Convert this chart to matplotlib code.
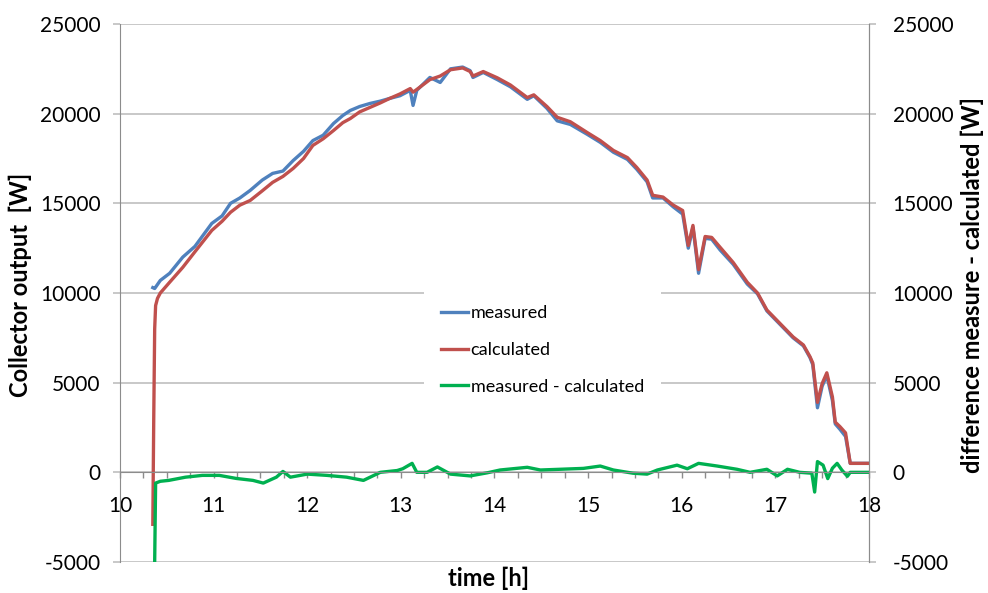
import numpy as np
import matplotlib.pyplot as plt
from matplotlib.ticker import MultipleLocator

plt.rcParams['font.family'] = ['Lato', 'DejaVu Sans']
plt.rcParams['axes.unicode_minus'] = False

t_meas = [10.35, 10.37, 10.43, 10.53, 10.67, 10.80, 10.98, 11.09, 11.18, 11.28,
          11.39, 11.52, 11.63, 11.74, 11.85, 11.96, 12.06, 12.17, 12.28, 12.38,
          12.46, 12.56, 12.67, 12.78, 12.88, 12.99, 13.10, 13.13, 13.17, 13.31,
          13.42, 13.53, 13.66, 13.74, 13.77, 13.88, 14.03, 14.17, 14.35, 14.42,
          14.56, 14.67, 14.81, 14.99, 15.13, 15.27, 15.42, 15.52, 15.63, 15.69,
          15.80, 15.91, 16.01, 16.07, 16.12, 16.18, 16.25, 16.32, 16.41, 16.55,
          16.70, 16.81, 16.91, 17.05, 17.19, 17.30, 17.37, 17.40, 17.45, 17.50,
          17.55, 17.61, 17.64, 17.69, 17.75, 17.80, 18.00]
measured = [10300, 10250, 10700, 11100, 12000, 12600, 13880, 14300, 15000, 15300,
            15720, 16300, 16670, 16800, 17390, 17900, 18500, 18800, 19450, 19900,
            20180, 20400, 20570, 20700, 20850, 21000, 21300, 20460, 21300, 22020,
            21740, 22500, 22600, 22400, 22020, 22300, 21900, 21500, 20800, 21000,
            20300, 19600, 19400, 18850, 18400, 17850, 17450, 16900, 16200, 15300,
            15300, 14800, 14400, 12500, 13660, 11100, 13050, 13000, 12400, 11600,
            10500, 9950, 9000, 8250, 7500, 7050, 6400, 6000, 3600, 4800,
            5400, 4000, 2700, 2400, 2000, 500, 500]

# Berechnete Werte
t_calc = [10.35, 10.36, 10.37, 10.38, 10.40, 10.43, 10.53, 10.67, 10.80, 10.98,
          11.09, 11.18, 11.28, 11.39, 11.52, 11.63, 11.74, 11.85, 11.96, 12.06,
          12.17, 12.28, 12.38, 12.46, 12.56, 12.67, 12.78, 12.88, 12.99, 13.10,
          13.13, 13.17, 13.31, 13.42, 13.53, 13.66, 13.74, 13.77, 13.88, 14.03,
          14.17, 14.35, 14.42, 14.56, 14.67, 14.81, 14.99, 15.13, 15.27, 15.42,
          15.52, 15.63, 15.69, 15.80, 15.91, 16.01, 16.07, 16.12, 16.18, 16.25,
          16.32, 16.41, 16.55, 16.70, 16.81, 16.91, 17.05, 17.19, 17.30, 17.37,
          17.40, 17.45, 17.50, 17.55, 17.61, 17.64, 17.69, 17.75, 17.80, 18.00]
calculated = [-2900, 3000, 8000, 9300, 9700, 10000, 10600, 11430, 12300, 13490,
              14000, 14500, 14900, 15160, 15700, 16170, 16500, 16950, 17500, 18230,
              18600, 19060, 19500, 19730, 20100, 20350, 20600, 20850, 21100, 21400,
              21200, 21350, 21900, 22100, 22450, 22550, 22350, 22100, 22350, 22000,
              21600, 20900, 21050, 20400, 19800, 19550, 18950, 18500, 17950, 17550,
              17000, 16300, 15450, 15350, 14900, 14600, 12650, 13770, 11300, 13150,
              13100, 12550, 11700, 10600, 10000, 9050, 8300, 7550, 7100, 6450,
              6100, 3900, 4950, 5550, 4200, 2800, 2550, 2200, 500, 500]

# Differenz gemessen - berechnet
t_diff = [10.37, 10.38, 10.43, 10.52, 10.70, 10.88, 11.06, 11.24, 11.42, 11.53,
          11.67, 11.74, 11.82, 12.00, 12.21, 12.42, 12.60, 12.78, 12.96, 13.02,
          13.12, 13.17, 13.28, 13.39, 13.53, 13.74, 13.92, 14.06, 14.35, 14.49,
          14.70, 14.95, 15.13, 15.27, 15.48, 15.63, 15.74, 15.95, 16.06, 16.18,
          16.38, 16.59, 16.73, 16.91, 17.02, 17.13, 17.26, 17.39, 17.42, 17.45,
          17.51, 17.56, 17.61, 17.66, 17.71, 17.77, 17.80, 18.00]
difference = [-5000, -600, -500, -450, -270, -170, -170, -340, -450, -600,
              -270, 50, -270, -100, -170, -270, -450, 0, 100, 200,
              500, 0, 0, 300, -100, -200, -30, 130, 280, 130,
              170, 220, 350, 130, -50, -100, 130, 400, 200, 500,
              350, 170, 0, 170, -200, 170, 0, -50, -1100, 600,
              400, -350, 230, 500, 130, -220, 0, 0]

grid_col = '#bfbfbf'
axis_col = '#8c8c8c'

fig = plt.figure(figsize=(9.88, 5.93), dpi=100)
ax = fig.add_axes([0.1215, 0.0523, 0.758, 0.9072])

ax.plot(t_meas, measured, color='#4f81bd', lw=2.4, label='measured')
ax.plot(t_calc, calculated, color='#c0504d', lw=2.4, label='calculated')
ax.plot(t_diff, difference, color='#00b050', lw=2.4, label='measured - calculated')

ax.set_xlim(10, 18)
ax.set_ylim(-5000, 25000)
ax.yaxis.set_major_locator(MultipleLocator(5000))
ax.xaxis.set_major_locator(MultipleLocator(1))
ax.xaxis.set_minor_locator(MultipleLocator(0.25))
ax.yaxis.grid(True, color=grid_col, lw=1.2)
ax.set_axisbelow(True)

ax.spines['top'].set_visible(False)
ax.spines['bottom'].set_position(('data', 0))
ax.spines['bottom'].set_color(axis_col)
ax.spines['left'].set_color(axis_col)
ax.spines['right'].set_color(axis_col)
ax.tick_params(axis='y', length=5, width=1.2, color=grid_col, pad=9, labelsize=15)
ax.tick_params(axis='x', which='both', length=4, width=1, color=axis_col,
               pad=13, labelsize=15)

ax2 = ax.twinx()
ax2.set_ylim(-5000, 25000)
ax2.yaxis.set_major_locator(MultipleLocator(5000))
for s in ['top', 'bottom', 'left']:
    ax2.spines[s].set_visible(False)
ax2.spines['right'].set_color(axis_col)
ax2.tick_params(axis='y', length=5, width=1.2, color=grid_col, pad=12, labelsize=15)

leg = ax.legend(loc='center', bbox_to_anchor=(0.549, 0.41), bbox_transform=fig.transFigure,
                frameon=True, fancybox=False, edgecolor='none', facecolor='white',
                framealpha=1, fontsize=13, handlelength=1.5, handletextpad=0.15,
                labelspacing=1.15, borderpad=0.95)

fig.text(20 / 988, 0.52, 'Collector output  [W]', rotation=90, ha='center', va='center',
         fontsize=17, fontweight='bold')
fig.text(972 / 988, 0.52, 'difference measure - calculated [W]', rotation=90,
         ha='center', va='center', fontsize=17, fontweight='bold')
fig.text(489 / 988, 1 - 578 / 593, 'time [h]', ha='center', va='center',
         fontsize=17, fontweight='bold')

plt.savefig('out.png', dpi=100)
